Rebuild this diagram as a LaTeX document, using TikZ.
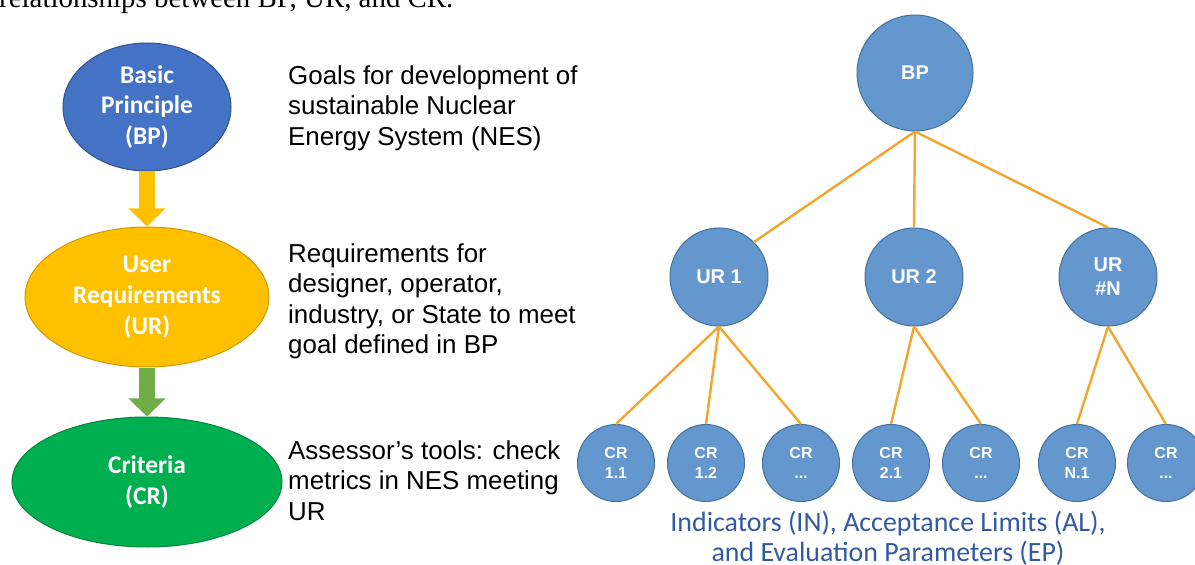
\documentclass[tikz,border=0pt]{standalone}
\usepackage{fontspec}
\setmainfont{Liberation Serif}
\newfontfamily\arial{Liberation Sans}
\newfontfamily\calibri{Carlito}
\usetikzlibrary{shapes.geometric,arrows.meta}

\definecolor{bpblue}{RGB}{68,114,196}
\definecolor{bpedge}{RGB}{47,82,143}
\definecolor{urgold}{RGB}{255,192,0}
\definecolor{uredge}{RGB}{205,155,0}
\definecolor{crgreen}{RGB}{0,176,80}
\definecolor{credge}{RGB}{0,135,62}
\definecolor{flowgreen}{RGB}{112,173,71}
\definecolor{treeblue}{RGB}{101,151,207}
\definecolor{treeedge}{RGB}{65,113,156}
\definecolor{linkorange}{RGB}{242,166,45}
\definecolor{capblue}{RGB}{50,90,160}

\begin{document}
\begin{tikzpicture}[x=1bp,y=-1bp,>=latex,
  lvl/.style={ellipse,draw,line width=1bp,text=white,align=center,inner sep=0pt,
    font=\calibri\bfseries\fontsize{25.5}{31}\selectfont},
  note/.style={anchor=base west,align=left,inner sep=0pt,
    font=\arial\fontsize{26}{30.7}\selectfont},
  knot/.style={circle,draw=treeedge,fill=treeblue,line width=1bp,text=white,
    align=center,inner sep=0pt,font=\arial\bfseries\fontsize{20}{24}\selectfont},
  leaf/.style={knot,minimum size=77bp,font=\arial\bfseries\fontsize{16}{20}\selectfont},
  link/.style={draw=linkorange,line width=2.4bp},
  flow/.style={line width=16bp,-{Triangle[length=18bp,width=36bp]}}]

\useasboundingbox (0,0) rectangle (1195,565);
\clip (0,0) rectangle (1195,565);

% caption line of the page above
\node[anchor=base west,inner sep=0pt,font=\fontsize{29}{33}\selectfont] (head) at (-1,7.5)
  {relationships between BP, UR, and CR.};

% left column: the three levels
\node[lvl,fill=bpblue,draw=bpedge,minimum width=168bp,minimum height=128bp] (bp) at (147,107)
  {Basic\\Principle\\(BP)};
\node[lvl,fill=urgold,draw=uredge,minimum width=244bp,minimum height=140bp] (ur) at (147,297)
  {User\\Requirements\\(UR)};
\node[lvl,fill=crgreen,draw=credge,minimum width=270bp,minimum height=130bp] (cr) at (147,482)
  {Criteria\\(CR)};

\draw[flow,draw=urgold] (bp.south) -- (ur.north);
\draw[flow,draw=flowgreen] (ur.south) -- (cr.north);

% descriptions, placed by the baseline of their last line
\node[note] (bptext) at (288,145.5)
  {Goals for development of\\sustainable Nuclear\\Energy System (NES)};
\node[note] (urtext) at (288,354)
  {Requirements for\\designer, operator,\\industry, or State to meet\\goal defined in BP};
\node[note] (crtext) at (288,520.5)
  {Assessor’s tools: check\\metrics in NES meeting\\UR};

% right side: the tree
\node[knot,minimum size=116bp] (top) at (915,73) {BP};
\node[knot,minimum size=98bp] (ur1) at (719,277) {UR 1};
\node[knot,minimum size=98bp] (ur2) at (914,277) {UR 2};
\node[knot,minimum size=98bp] (urn) at (1108,277) {UR\\\#N};

\node[leaf] (cr11) at (616,463) {CR\\1.1};
\node[leaf] (cr12) at (706,463) {CR\\1.2};
\node[leaf] (cr1x) at (801,463) {CR\\...};
\node[leaf] (cr21) at (891,463) {CR\\2.1};
\node[leaf] (cr2x) at (981,463) {CR\\...};
\node[leaf] (crn1) at (1077,463) {CR\\N.1};
\node[leaf] (crnx) at (1166,463) {CR\\...};

\draw[link] (top.south) -- (ur1.45);
\draw[link] (top.south) -- (ur2.north);
\draw[link] (top.south) -- (urn.north);

\draw[link] (ur1.south) -- (cr11.north);
\draw[link] (ur1.south) -- (cr12.north);
\draw[link] (ur1.south) -- (cr1x.north);
\draw[link] (ur2.south) -- (cr21.north);
\draw[link] (ur2.south) -- (cr2x.north);
\draw[link] (urn.south) -- (crn1.north);
\draw[link] (urn.south) -- (crnx.north);

\node[anchor=base,align=center,inner sep=0pt,text=capblue,
  font=\calibri\fontsize{28}{30}\selectfont] (tail) at (888,561)
  {Indicators (IN), Acceptance Limits (AL),\\and Evaluation Parameters (EP)};

\end{tikzpicture}
\end{document}
